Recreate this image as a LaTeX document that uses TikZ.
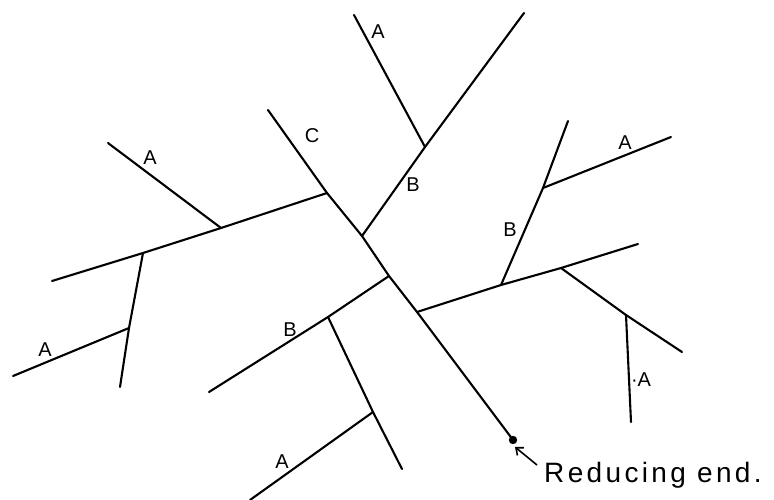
\documentclass[tikz,border=0pt]{standalone}
\usepackage{fontspec}
\setmainfont{Liberation Sans}
\newfontfamily\handfont[LetterSpace=12]{Liberation Sans}
\usetikzlibrary{arrows.meta}
\tikzset{
  chain/.style={line width=2.1pt, line cap=round, line join=round},
  lab/.style={font=\fontsize{20}{20}\selectfont, inner sep=0pt},
  pointer/.style={line width=1.6pt, -{Straight Barb[length=6pt,width=10pt]}}
}
\begin{document}
\begin{tikzpicture}[x=1pt,y=-1pt]
\useasboundingbox (0,0) rectangle (774,500);
% central C chain
\coordinate (c0) at (268,110);
\coordinate (j1) at (327,193);
\coordinate (j2) at (362,236);
\coordinate (j3) at (389,276);
\coordinate (j4) at (417,312);
\coordinate (red) at (513,440);
% top B
\coordinate (bA) at (425,147);
\coordinate (bT) at (524,13);
\coordinate (aT) at (354,15);
% left long
\coordinate (lL) at (52,281);
\coordinate (lJ2) at (143,253);
\coordinate (lJ1) at (221,228);
\coordinate (aL) at (108,143);
\coordinate (lV1) at (129,328);
\coordinate (lVe) at (120,387);
\coordinate (aLB) at (13,376);
% middle B
\coordinate (mJ) at (328,317);
\coordinate (mE) at (209,392);
\coordinate (mK) at (373,412);
\coordinate (mE2) at (402,469);
\coordinate (aB) at (250,500);
% right long
\coordinate (rJ1) at (501,285);
\coordinate (rJ2) at (561,268);
\coordinate (rE) at (638,244);
\coordinate (rB) at (543,188);
\coordinate (rBe) at (568,121);
\coordinate (aR) at (671,137);
\coordinate (rK) at (626,315);
\coordinate (rKe) at (682,352);
\coordinate (rV) at (631,422);

\draw[chain] (c0) -- (j1) -- (j2) -- (j3) -- (j4) -- (red);
\draw[chain] (j2) -- (bA) -- (bT);
\draw[chain] (aT) -- (bA);
\draw[chain] (lL) -- (lJ2) -- (lJ1) -- (j1);
\draw[chain] (aL) -- (lJ1);
\draw[chain] (lJ2) -- (lV1) -- (lVe);
\draw[chain] (aLB) -- (lV1);
\draw[chain] (j3) -- (mJ) -- (mE);
\draw[chain] (mJ) -- (mK) -- (mE2);
\draw[chain] (aB) -- (mK);
\draw[chain] (j4) -- (rJ1) -- (rJ2) -- (rE);
\draw[chain] (rJ1) -- (rB) -- (rBe);
\draw[chain] (rB) -- (aR);
\draw[chain] (rJ2) -- (rK) -- (rKe);
\draw[chain] (rK) -- (rV);

\fill (red) circle (4.2pt);

\node[lab] (L1) at (378,32) {A};
\node[lab] (L2) at (312,136) {C};
\node[lab] (L3) at (150,158) {A};
\node[lab] (L4) at (413,185) {B};
\node[lab] (L5) at (625,143) {A};
\node[lab] (L6) at (510,230) {B};
\node[lab] (L7) at (290,330) {B};
\node[lab] (L8) at (45,350) {A};
\node[lab] (L9) at (282,462) {A};
\node[lab] (L10) at (641,380) {·A};

\node[anchor=base west, inner sep=0pt, font=\handfont\fontsize{28}{28}\selectfont] (txt) at (544,482) {Reducing end.};
\coordinate (tail) at (537,465);
\coordinate (tip) at (515,447);
\draw[pointer] (tail) -- (tip);
\end{tikzpicture}
\end{document}
